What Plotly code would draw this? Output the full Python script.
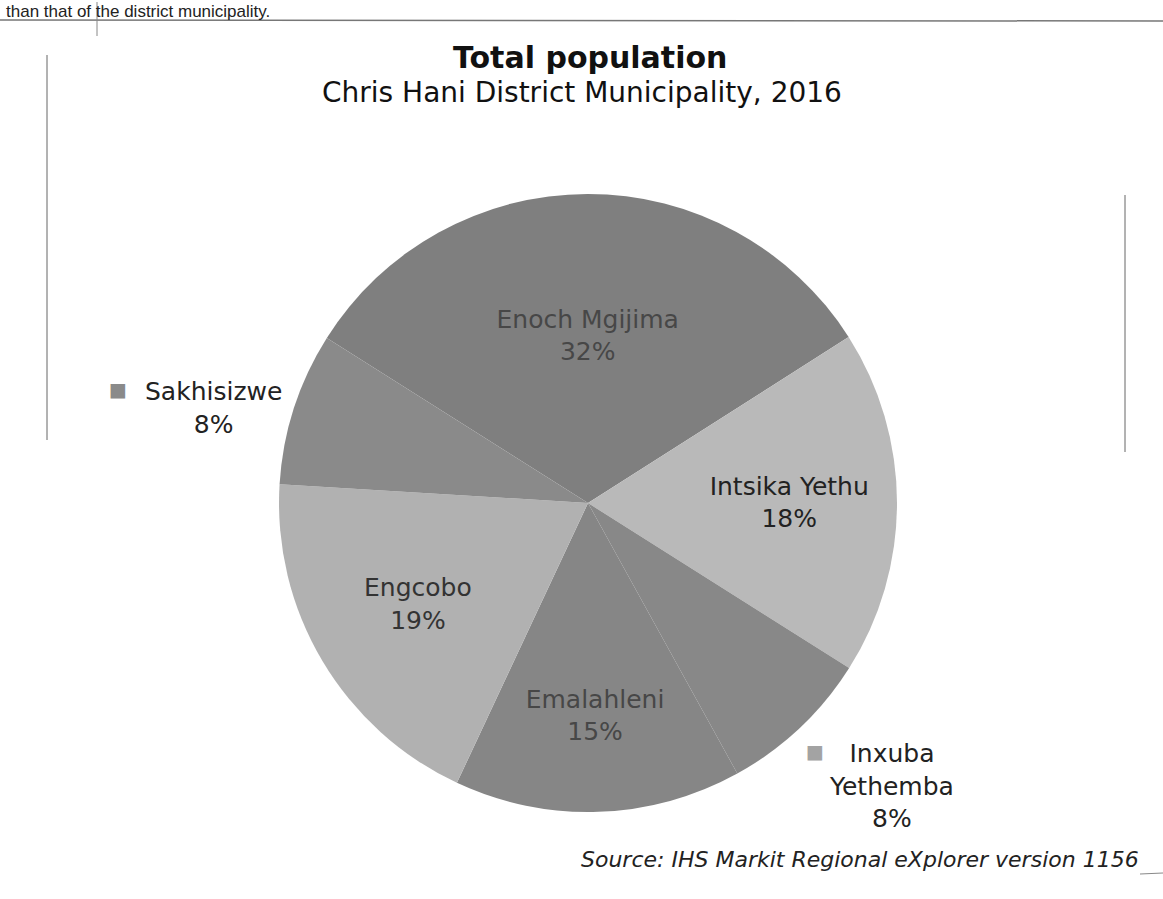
import plotly.graph_objects as go

# Data
labels = ["Enoch Mgijima", "Intsika Yethu", "Inxuba Yethemba", "Emalahleni", "Engcobo", "Sakhisizwe"]
values = [32, 18, 8, 15, 19, 8]
colors = ["#7f7f7f", "#b9b9b9", "#888888", "#868686", "#b1b1b1", "#8a8a8a"]
inside_text = ["%{label}<br>%{value}%", "%{label}<br>%{value}%", "", "%{label}<br>%{value}%", "%{label}<br>%{value}%", ""]
text_colors = ["#474747", "#222222", "#333333", "#474747", "#333333", "#333333"]

title = "Total population"
subtitle = "Chris Hani District Municipality, 2016"
source = "Source: IHS Markit Regional eXplorer version 1156"
page_text = "than that of the district municipality."

W, H = 1163, 899

def px(x):
    return x / W

def py(y):
    return 1 - y / H

fig = go.Figure()
fig.add_trace(go.Pie(
    labels=labels,
    values=values,
    sort=False,
    direction="clockwise",
    rotation=-57.7,
    marker=dict(colors=colors, line=dict(width=0)),
    texttemplate=inside_text,
    textposition="inside",
    insidetextorientation="horizontal",
    textfont=dict(family="DejaVu Sans", size=25, color=text_colors),
    showlegend=False,
    hoverinfo="label+percent",
    domain=dict(x=[px(279), px(897)], y=[py(812), py(194)]),
))

def a(text, x, y, size, color="#222222", family="DejaVu Sans", xanchor="center", yanchor="middle"):
    return dict(text=text, x=px(x), y=py(y), xref="paper", yref="paper", showarrow=False,
                xanchor=xanchor, yanchor=yanchor, font=dict(family=family, size=size, color=color))

ann = [
    a("<b>" + title + "</b>", 590, 57, 30, "#111111"),
    a(subtitle, 582, 93, 28, "#111111"),
    a("<i>" + source + "</i>", 1141, 859, 22, xanchor="right"),
    a(page_text, 4, 0, 17, family="Liberation Sans", xanchor="left", yanchor="top"),
    a("■", 118, 389, 19, "#8a8a8a"),
    a(labels[5] + "<br>" + str(values[5]) + "%", 213, 408, 25),
    a("■", 815, 751, 19, "#a3a3a3"),
    a("Inxuba<br>Yethemba<br>" + str(values[2]) + "%", 891, 786, 25),
]

shapes = [
    dict(type="line", xref="paper", yref="paper", x0=0, y0=py(20), x1=1, y1=py(21),
         line=dict(color="#777777", width=1.5)),
    dict(type="line", xref="paper", yref="paper", x0=px(97), y0=py(2), x1=px(97), y1=py(36),
         line=dict(color="#888888", width=1)),
    dict(type="line", xref="paper", yref="paper", x0=px(47), y0=py(55), x1=px(47), y1=py(440),
         line=dict(color="#666666", width=1)),
    dict(type="line", xref="paper", yref="paper", x0=px(1125), y0=py(195), x1=px(1125), y1=py(452),
         line=dict(color="#666666", width=1)),
    dict(type="line", xref="paper", yref="paper", x0=px(1140), y0=py(874), x1=1, y1=py(873),
         line=dict(color="#888888", width=1)),
]

fig.update_layout(
    width=W, height=H,
    margin=dict(l=0, r=0, t=0, b=0),
    paper_bgcolor="white",
    plot_bgcolor="white",
    annotations=ann,
    shapes=shapes,
    uniformtext=dict(minsize=25, mode="show"),
)

fig.write_html("out.html", config={"displayModeBar": False},
               post_script="document.body.style.margin='0';")
